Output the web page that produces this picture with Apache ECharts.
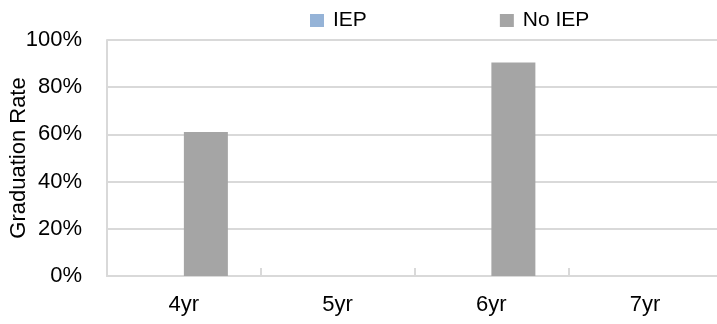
<!DOCTYPE html>
<html>
<head>
<meta charset="utf-8">
<script src="https://cdn.jsdelivr.net/npm/echarts@6/dist/echarts.min.js"></script>
<style>
html,body{margin:0;padding:0;background:#fff;}
#chart{width:717px;height:324px;}
</style>
</head>
<body>
<div id="chart"></div>
<script>
const categories = ['4yr', '5yr', '6yr', '7yr'];
const iepValues = [null, null, null, null];
const noIepValues = [61, null, 90.5, null];
const yTicks = [0, 20, 40, 60, 80, 100];

const FONT = 'Liberation Sans';
const chart = echarts.init(document.getElementById('chart'), null, {renderer: 'canvas'});
chart.setOption({
  animation: false,
  textStyle: {fontFamily: FONT},
  legend: {
    data: ['IEP', 'No IEP'],
    left: 310,
    top: 10,
    icon: 'rect',
    itemWidth: 14,
    itemHeight: 13,
    itemGap: 133,
    padding: 0,
    textStyle: {fontFamily: FONT, fontSize: 21, color: '#000', padding: [0, 0, 0, 4]}
  },
  grid: {left: 107, top: 40, width: 615, bottom: 48, containLabel: false, outerBoundsMode: 'none'},
  xAxis: {
    type: 'category',
    data: categories,
    axisLine: {show: true, lineStyle: {color: '#D9D9D9', width: 2}},
    axisTick: {show: true, inside: true, length: 8, alignWithLabel: false, lineStyle: {color: '#D9D9D9', width: 2}},
    axisLabel: {fontFamily: FONT, fontSize: 22, color: '#000', margin: 18},
    splitLine: {show: false}
  },
  yAxis: {
    type: 'value',
    min: yTicks[0],
    max: yTicks[yTicks.length - 1],
    interval: 20,
    name: 'Graduation Rate',
    nameLocation: 'middle',
    nameRotate: 90,
    nameGap: 77,
    nameMoveOverlap: false,
    nameTextStyle: {fontFamily: FONT, fontSize: 22, color: '#000'},
    axisLine: {show: true, lineStyle: {color: '#D9D9D9', width: 2}},
    axisTick: {show: false},
    axisLabel: {fontFamily: FONT, fontSize: 22, color: '#000', margin: 25, formatter: v => v + '%'},
    splitLine: {show: true, lineStyle: {color: '#D9D9D9', width: 2}}
  },
  series: [
    {name: 'IEP', type: 'bar', data: iepValues, barWidth: 44, barGap: '0%', itemStyle: {color: '#95B3D7'}},
    {name: 'No IEP', type: 'bar', data: noIepValues, barWidth: 44, barGap: '0%', itemStyle: {color: '#A5A5A5'}}
  ]
});
</script>
</body>
</html>
